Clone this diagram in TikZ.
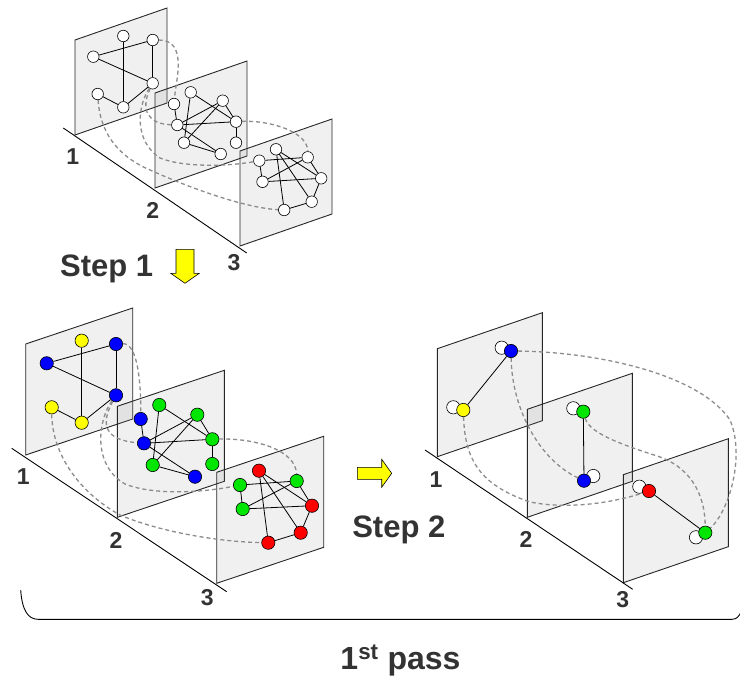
\documentclass[tikz,border=0pt]{standalone}
\usepackage{fontspec}
\setmainfont{Liberation Sans}
\definecolor{txtgray}{HTML}{333333}
\definecolor{dashgray}{HTML}{8C8C8C}
\definecolor{vyellow}{HTML}{FFFF00}
\definecolor{vblue}{HTML}{0000FF}
\definecolor{vgreen}{HTML}{00E600}
\definecolor{vred}{HTML}{FF0000}

\begin{document}
\begin{tikzpicture}[
		x=1pt, y=-1pt,
		panel/.style={draw=black!85, line width=0.9pt, fill=gray, fill opacity=0.12},
		floor/.style={draw=black, line width=0.9pt},
		vtx/.style={circle, draw=black, line width=0.6pt, fill=white, inner sep=0pt, minimum size=11.5pt},
		cvtx/.style={vtx, minimum size=13.3pt},
		yel/.style={cvtx, fill=vyellow},
		blu/.style={cvtx, fill=vblue},
		grn/.style={cvtx, fill=vgreen},
		rd/.style={cvtx, fill=vred},
		wht/.style={cvtx, fill=white},
		link/.style={draw=black, line width=0.8pt},
		layerlink/.style={draw=dashgray, line width=1.3pt, dash pattern=on 4pt off 3pt},
		layernum/.style={font=\fontsize{23}{23}\selectfont\bfseries, text=txtgray, inner sep=0pt},
		steplabel/.style={font=\fontsize{31}{31}\selectfont\bfseries, text=txtgray, inner sep=0pt, anchor=base},
		steparrow/.style={draw=black, line width=0.6pt, fill=vyellow, line join=miter}
	]
	\useasboundingbox (0,0) rectangle (740,680);

	% Panels
	\foreach \x/\y in {75/135, 155/188, 240/246}
	\draw[panel] (\x,\y) -- ++(0,-95) -- ++(92,-32) -- ++(0,95) -- cycle;
	\foreach \x/\y in {25.7/455, 117.3/517.3, 216.7/583.3}
	\draw[panel] (\x,\y) -- ++(0,-111) -- ++(107,-36) -- ++(0,111) -- cycle;
	\foreach \x/\y in {437.3/456.7, 527.3/517.3, 623.3/582.7}
	\draw[panel] (\x,\y) -- ++(0,-108) -- ++(105,-36) -- ++(0,108) -- cycle;

	\draw[floor] (63.3,128) -- (246.7,253);
	\draw[floor] (11.7,448.3) -- (226.7,591.7);
	\draw[floor] (425,450) -- (632.7,589.3);

	% Layer numbers
	\node[layernum] (tn1) at (72.7,157) {1};
	\node[layernum] (tn2) at (152.7,210) {2};
	\node[layernum] (tn3) at (234,263) {3};
	\node[layernum] (ln1) at (23.3,477) {1};
	\node[layernum] (ln2) at (116,540) {2};
	\node[layernum] (ln3) at (207.3,597.3) {3};
	\node[layernum] (rn1) at (436,480) {1};
	\node[layernum] (rn2) at (526,539.3) {2};
	\node[layernum] (rn3) at (622.7,599.3) {3};

	% Nodes, input graph
	\node[vtx] (t1a) at (123.3,36) {};
	\node[vtx] (t1b) at (152.7,40) {};
	\node[vtx] (t1c) at (93.3,56.7) {};
	\node[vtx] (t1d) at (152.7,83.3) {};
	\node[vtx] (t1e) at (97.7,94) {};
	\node[vtx] (t1f) at (123.3,107.3) {};
	\node[vtx] (t2a) at (174,104) {};
	\node[vtx] (t2b) at (190.7,92.3) {};
	\node[vtx] (t2c) at (222.7,100.7) {};
	\node[vtx] (t2d) at (177.3,125) {};
	\node[vtx] (t2e) at (236,121.7) {};
	\node[vtx] (t2f) at (184,142.7) {};
	\node[vtx] (t2g) at (236,142.7) {};
	\node[vtx] (t2h) at (220.7,154) {};
	\node[vtx] (t3p) at (276,149.3) {};
	\node[vtx] (t3q) at (259.3,160.7) {};
	\node[vtx] (t3r) at (307.7,157.3) {};
	\node[vtx] (t3s) at (262.5,181.8) {};
	\node[vtx] (t3t) at (321.2,178.3) {};
	\node[vtx] (t3u) at (311.7,201.7) {};
	\node[vtx] (t3v) at (284.2,210) {};

	% Nodes, after step 1
	\node[yel] (l1a) at (81.7,340.7) {};
	\node[blu] (l1b) at (116,344) {};
	\node[blu] (l1c) at (46.7,363.3) {};
	\node[blu] (l1d) at (116,395.3) {};
	\node[yel] (l1e) at (51.7,407.3) {};
	\node[yel] (l1f) at (81.7,422.7) {};
	\node[blu] (l2a) at (140.7,419) {};
	\node[grn] (l2b) at (159.3,405) {};
	\node[grn] (l2c) at (197.3,414.7) {};
	\node[blu] (l2d) at (144,443.3) {};
	\node[grn] (l2e) at (212.3,439.3) {};
	\node[grn] (l2f) at (152.7,465) {};
	\node[grn] (l2g) at (212.3,464) {};
	\node[blu] (l2h) at (195,476.7) {};
	\node[rd] (l3p) at (259,470.7) {};
	\node[grn] (l3q) at (240,485) {};
	\node[grn] (l3r) at (296.7,481) {};
	\node[grn] (l3s) at (242.7,509) {};
	\node[rd] (l3t) at (312,505.7) {};
	\node[rd] (l3u) at (300.7,532.7) {};
	\node[rd] (l3v) at (268.3,542.7) {};

	% Nodes, after step 2
	\node[wht] (r1w) at (501.7,347.7) {};
	\node[blu] (r1b) at (511,351) {};
	\node[wht] (r1v) at (453.3,407.3) {};
	\node[yel] (r1y) at (463.3,410) {};
	\node[wht] (r2w) at (573.3,408.3) {};
	\node[grn] (r2g) at (583.3,411.7) {};
	\node[wht] (r2v) at (593.3,476) {};
	\node[blu] (r2b) at (584,480.7) {};
	\node[wht] (r3w) at (639.3,486.7) {};
	\node[rd] (r3r) at (649,491) {};
	\node[wht] (r3v) at (696,537.3) {};
	\node[grn] (r3g) at (705.3,532.7) {};

	% Edges inside layers
	\foreach \a/\b in {c/b, c/d, b/d, a/f, e/f, f/d}
	{
		\draw[link] (t1\a) -- (t1\b);
		\draw[link] (l1\a) -- (l1\b);
	}
	\foreach \a/\b in {a/d, b/f, b/e, c/d, c/f, c/e, d/e, d/h, f/h, e/g}
	{
		\draw[link] (t2\a) -- (t2\b);
		\draw[link] (l2\a) -- (l2\b);
	}
	\foreach \a/\b in {q/r, q/s, s/r, s/t, p/t, p/u, p/v, r/t, t/u, u/v}
	{
		\draw[link] (t3\a) -- (t3\b);
		\draw[link] (l3\a) -- (l3\b);
	}
	\draw[link] (r1b) -- (r1y);
	\draw[link] (r2g) -- (r2b);
	\draw[link] (r3r) -- (r3g);

	% Edges between layers
	\draw[layerlink] (t1b) .. controls (188,40) and (176,80) .. (t2a);
	\draw[layerlink] (t1d) .. controls (138,105) and (133,140) .. (160,158) .. controls (185,168) and (230,166) .. (t3q);
	\draw[layerlink] (t1d) .. controls (140,110) and (148,124) .. (t2d);
	\draw[layerlink] (t1e) .. controls (100,130) and (115,155) .. (150,170) .. controls (190,188) and (245,208) .. (t3v);
	\draw[layerlink] (t2e) .. controls (270,120) and (308,132) .. (t3r);

	\draw[layerlink] (l1b) .. controls (138,343) and (141,385) .. (l2a);
	\draw[layerlink] (l1d) .. controls (98,420) and (92,465) .. (125,484) .. controls (155,496) and (205,492) .. (l3q);
	\draw[layerlink] (l1d) .. controls (100,425) and (105,440) .. (l2d);
	\draw[layerlink] (l1e) .. controls (52,450) and (75,490) .. (120,515) .. controls (160,532) and (220,542) .. (l3v);
	\draw[layerlink] (l2e) .. controls (255,438) and (296,450) .. (l3r);

	\draw[layerlink] (r1b) .. controls (600,352) and (700,375) .. (730,420) .. controls (745,455) and (730,510) .. (r3g);
	\draw[layerlink] (r1b) .. controls (512,410) and (540,460) .. (r2b);
	\draw[layerlink] (r1y) .. controls (465,460) and (480,485) .. (530,502) .. controls (570,510) and (615,502) .. (r3r);
	\draw[layerlink] (r2g) .. controls (590,435) and (630,447) .. (660,457) .. controls (695,470) and (705,500) .. (r3g);

	% Steps
	\node[steplabel] (step1) at (106.7,276) {Step 1};
	\draw[steparrow] (176,249.3) -- (194,249.3) -- (194,273.3) -- (199.3,273.3) -- (185,283.3)
		-- (170.7,273.3) -- (176,273.3) -- cycle;
	\node[steplabel] (step2) at (398.8,537.5) {Step 2};
	\draw[steparrow] (357.3,467.3) -- (381.7,467.3) -- (381.7,459.3) -- (391.7,473.3) -- (381.7,487.3)
		-- (381.7,479.3) -- (357.3,479.3) -- cycle;

	% Pass
	\draw[line width=0.9pt] (20.7,590) .. controls (22,610) and (28,619.3) .. (38,619.3) -- (732,619.3)
		.. controls (737,619.3) and (739,616) .. (741,612);
	\node[font=\fontsize{32}{32}\selectfont\bfseries, text=txtgray, anchor=base, inner sep=0pt] (pass) at (400.5,669) {1\textsuperscript{st} pass};

\end{tikzpicture}
\end{document}
